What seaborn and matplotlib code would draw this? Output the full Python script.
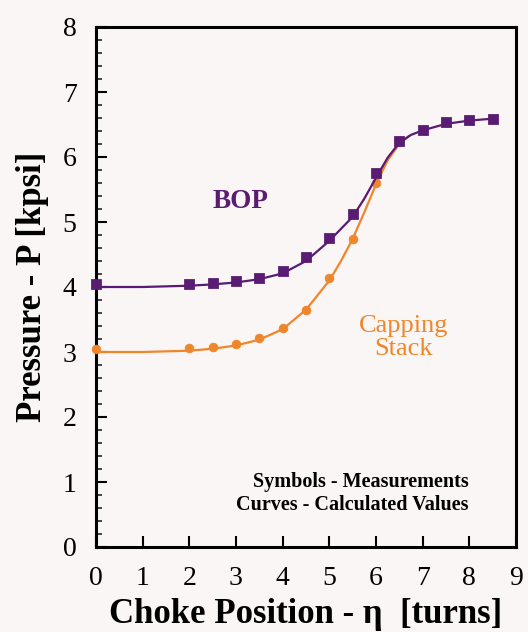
import matplotlib
matplotlib.use("Agg")
import matplotlib.pyplot as plt
import seaborn as sns
import pandas as pd
from matplotlib.ticker import MultipleLocator

# Measured pressures (kpsi) vs choke position (turns)
bop_turns = [0, 2, 2.5, 3, 3.5, 4, 4.5, 5, 5.5, 6, 6.5, 7, 7.5, 8, 8.5]
bop_meas = [4.05, 4.05, 4.06, 4.10, 4.14, 4.24, 4.46, 4.76, 5.12, 5.75, 6.25, 6.42, 6.54, 6.57, 6.59]

cap_turns = [0, 2, 2.5, 3, 3.5, 4, 4.5, 5, 5.5, 6, 6.5]
cap_meas = [3.04, 3.06, 3.08, 3.12, 3.21, 3.37, 3.65, 4.14, 4.74, 5.60, 6.23]

# Calculated curves
bop_calc_turns = [0, 1, 2, 2.5, 3, 3.5, 4, 4.5, 5, 5.5, 5.75, 6, 6.25, 6.5, 6.75, 7, 7.5, 8, 8.5]
bop_calc = [4.00, 4.00, 4.02, 4.04, 4.07, 4.12, 4.21, 4.40, 4.71, 5.08, 5.36, 5.68, 5.99, 6.22, 6.34, 6.41, 6.51, 6.56, 6.59]

cap_calc_turns = [0, 1, 2, 2.5, 3, 3.5, 4, 4.5, 5, 5.25, 5.5, 5.75, 6, 6.25, 6.5, 6.7]
cap_calc = [3.00, 3.00, 3.02, 3.05, 3.10, 3.19, 3.35, 3.65, 4.10, 4.40, 4.74, 5.15, 5.58, 5.95, 6.20, 6.32]

x_ticks = list(range(0, 10))
y_ticks = list(range(0, 9))

purple = "#5a1b72"
orange = "#f0862a"
bg = "#fbf6f6"

sns.set_theme(style="ticks")
plt.rcParams["font.family"] = ["Liberation Serif", "DejaVu Serif"]
plt.rcParams["text.color"] = "black"
plt.rcParams["axes.labelcolor"] = "black"

fig = plt.figure(figsize=(5.28, 6.32), dpi=100, facecolor=bg)
ax = fig.add_axes([96 / 528, 85 / 632, 420 / 528, 520 / 632])
ax.set_facecolor(bg)

bop_line = pd.DataFrame({"x": bop_calc_turns, "y": bop_calc})
cap_line = pd.DataFrame({"x": cap_calc_turns, "y": cap_calc})
bop_pts = pd.DataFrame({"x": bop_turns, "y": bop_meas})
cap_pts = pd.DataFrame({"x": cap_turns, "y": cap_meas})

sns.lineplot(data=cap_line, x="x", y="y", ax=ax, color=orange, lw=1.6, sort=False, zorder=2)
sns.scatterplot(data=cap_pts, x="x", y="y", ax=ax, color=orange, marker="o", s=40,
                edgecolor=orange, zorder=3, clip_on=False)
sns.lineplot(data=bop_line, x="x", y="y", ax=ax, color=purple, lw=1.6, sort=False, zorder=4)
sns.scatterplot(data=bop_pts, x="x", y="y", ax=ax, color=purple, marker="s", s=50,
                edgecolor=purple, zorder=5, clip_on=False)

ax.set_xlim(0, 9)
ax.set_ylim(0, 8)
ax.set_xticks(x_ticks)
ax.set_yticks(y_ticks)
ax.yaxis.set_minor_locator(MultipleLocator(0.2))
ax.tick_params(axis="both", which="major", direction="in", length=8, width=1.5,
               labelsize=20, colors="black", pad=14)
ax.tick_params(axis="y", which="minor", direction="in", length=4, width=1.2)
for sp in ax.spines.values():
    sp.set_linewidth(2.2)
    sp.set_color("black")

ax.set_xlabel("Choke Position - η  [turns]", fontsize=25, fontweight="bold", labelpad=5,
              color="black")
ax.set_ylabel("Pressure - P [kpsi]", fontsize=25, fontweight="bold", labelpad=10,
              color="black")

ax.text(3.09, 5.32, "BOP", color=purple, fontsize=19.5, fontweight="bold", ha="center", va="center")
ax.text(6.58, 3.22, "Capping\nStack", color=orange, fontsize=19, ha="center", va="center",
        linespacing=1.05)
ax.text(7.99, 1.0, "Symbols - Measurements", fontsize=14.5, fontweight="bold",
        ha="right", va="center", color="black")
ax.text(7.99, 0.65, "Curves - Calculated Values", fontsize=14.5, fontweight="bold",
        ha="right", va="center", color="black")

fig.savefig("out.png", dpi=100, facecolor=bg)
